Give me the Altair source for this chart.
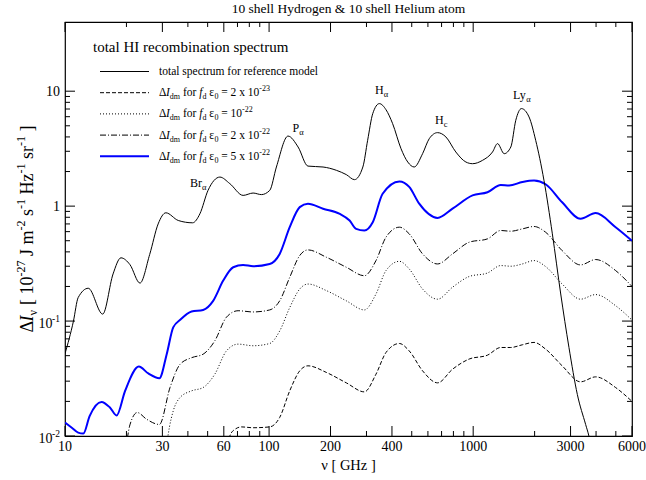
import altair as alt
import pandas as pd

FONT = "Liberation Serif"
W, H = 567, 414          # plot area
LEFT, TOP = 65, 22       # plot-area offset in the page

# ---------------- data ----------------
total_nu = [10, 11, 11.6, 13, 15.3, 17.2, 18.8, 20.8, 23.3, 26, 28.6, 31.2, 35.9, 42.2, 45.8,
            50.2, 57.4, 64.2, 74.6, 83.5, 91.7, 100.7, 108.6, 123.8, 138.7, 155, 183.8, 213.6,
            239, 262, 288, 304, 322, 347, 374, 403, 443, 478, 514, 565, 609, 669, 735, 822,
            921, 993, 1110, 1244, 1316, 1419, 1529, 1617, 1723, 1878, 2024, 2222, 2443, 2685,
            2946, 3238, 3556, 3690, 3900]
total_I = [0.052, 0.1, 0.16, 0.193, 0.115, 0.257, 0.355, 0.31, 0.214, 0.38, 0.70, 0.875, 0.75,
           0.716, 0.857, 1.37, 1.79, 1.57, 1.24, 1.30, 1.26, 1.37, 2.19, 4.07, 3.27, 2.23, 2.19,
           2.05, 1.88, 1.70, 2.19, 3.74, 6.38, 7.8, 6.9, 5.22, 3.16, 2.42, 2.19, 2.86, 3.86, 4.36,
           4.0, 2.96, 2.42, 2.34, 2.5, 2.96, 3.5, 2.86, 3.27, 5.58, 7.06, 5.97, 3.74, 1.68, 0.574,
           0.172, 0.059, 0.023, 0.0126, 0.01, 0.006]

blue_nu = [10, 10.8, 11.6, 12.3, 13.2, 15.1, 16.6, 17.9, 19.7, 23, 25.6, 29, 31.5, 33.9, 36.8,
           41.7, 47.5, 53.2, 59.6, 66.7, 74.6, 83.5, 100.7, 112.7, 126.2, 141.3, 155, 183.8,
           222, 248, 267, 293, 322, 360, 435, 486, 544, 669, 792, 993, 1175, 1365, 1500, 1742,
           1987, 2264, 2729, 3357, 3980, 4988, 6000]
blue_I = [0.0131, 0.0118, 0.0107, 0.0105, 0.0149, 0.0198, 0.0177, 0.0151, 0.0247, 0.0402, 0.035,
          0.0318, 0.0515, 0.088, 0.103, 0.121, 0.125, 0.150, 0.225, 0.294, 0.308, 0.30, 0.314,
          0.384, 0.656, 0.98, 1.05, 0.95, 0.857, 0.75, 0.634, 0.614, 0.725, 1.28, 1.64, 1.47,
          1.05, 0.79, 0.95, 1.24, 1.32, 1.53, 1.51, 1.62, 1.67, 1.55, 1.08, 0.776, 0.87, 0.656,
          0.50]

dashdot_nu = [20.2, 20.8, 22.6, 25.1, 29, 32.7, 36.6, 41.7, 47.5, 54.2, 61.8, 70.5, 83.5, 100.7,
              112.7, 126.2, 141.3, 155, 191, 239, 293, 334, 374, 435, 486, 565, 669, 792, 955,
              1175, 1365, 1529, 1742, 1987, 2264, 2729, 3357, 3980, 4988, 6000]
dashdot_I = [0.0095, 0.0125, 0.016, 0.014, 0.0126, 0.0264, 0.042, 0.048, 0.0515, 0.0673, 0.108,
             0.123, 0.12, 0.125, 0.150, 0.24, 0.372, 0.416, 0.359, 0.294, 0.248, 0.336, 0.537,
             0.656, 0.574, 0.384, 0.314, 0.384, 0.485, 0.519, 0.614, 0.605, 0.634, 0.665, 0.593,
             0.41, 0.308, 0.343, 0.275, 0.20]

dotted_nu = [31.8, 32.5, 33.9, 36.6, 41.7, 47.5, 54.2, 61.8, 70.5, 83.5, 100.7, 112.7, 126.2,
             141.3, 155, 191, 239, 293, 334, 374, 435, 486, 565, 669, 792, 955, 1175, 1365, 1529,
             1742, 1987, 2264, 2729, 3357, 3980, 4988, 6000]
dotted_I = [0.0095, 0.012, 0.0165, 0.0216, 0.0247, 0.0264, 0.0345, 0.055, 0.063, 0.061, 0.0638,
            0.082, 0.131, 0.19, 0.21, 0.184, 0.150, 0.125, 0.172, 0.275, 0.331, 0.284, 0.19,
            0.155, 0.197, 0.244, 0.262, 0.304, 0.30, 0.314, 0.336, 0.298, 0.21, 0.155, 0.17,
            0.136, 0.102]

dashed_nu = [63.5, 65, 67.9, 73.2, 83.5, 100.7, 112.7, 126.2, 141.3, 155, 191, 239, 293, 334,
             374, 435, 486, 565, 669, 792, 955, 1175, 1365, 1529, 1742, 1987, 2264, 2729, 3357,
             3980, 4988, 6000]
dashed_I = [0.0095, 0.0105, 0.0114, 0.012, 0.0118, 0.012, 0.0145, 0.0247, 0.0369, 0.0408,
            0.0357, 0.029, 0.0242, 0.0345, 0.0533, 0.0638, 0.055, 0.0369, 0.029, 0.0381, 0.0467,
            0.0505, 0.0589, 0.0589, 0.0622, 0.0652, 0.057, 0.0408, 0.0296, 0.0327, 0.0264, 0.020]

x_major = [10, 30, 60, 100, 200, 400, 1000, 3000, 6000]
x_labels = ["10", "30", "60", "100", "200", "400", "1000", "3000", "6000"]
x_minor = [20, 40, 50, 70, 80, 90, 300, 500, 600, 700, 800, 900, 2000, 4000, 5000]
y_major = [0.01, 0.1, 1, 10]
y_minor = [k * m for m in (0.01, 0.1, 1) for k in range(2, 10)]
y_plain_vals, y_plain_labels = [1, 10], ["1", "10"]
y_exp_vals, y_exp_base, y_exp_sup = [0.01, 0.1], ["10", "10"], ["-2", "-1"]

title_text = "10 shell Hydrogen & 10 shell Helium atom"
x_title = "ν [ GHz ]"
legend_header = "total HI recombination spectrum"
legend_first = "total spectrum for reference model"
legend_exps = ["2 x 10", "10", "2 x 10", "5 x 10"]
legend_sups = ["-23", "-22", "-22", "-22"]

# ---------------- scales ----------------
xs = alt.Scale(type="log", domain=[10, 6000], nice=False)
ys = alt.Scale(type="log", domain=[0.01, 40], nice=False)


def curve(nu, I, color="black", width=1.0, dash=None):
    props = dict(color=color, strokeWidth=width, interpolate="monotone", clip=True)
    if dash is not None:
        props["strokeDash"] = dash
    return alt.Chart(pd.DataFrame({"nu": nu, "I": I})).mark_line(**props).encode(
        x=alt.X("nu:Q", scale=xs, axis=None),
        y=alt.Y("I:Q", scale=ys, axis=None),
    )


def xticks(vals, length, top):
    y0 = 0 if top else H
    y1 = length if top else H - length
    return alt.Chart(pd.DataFrame({"v": vals})).mark_rule(color="black", strokeWidth=1).encode(
        x=alt.X("v:Q", scale=xs, axis=None), y=alt.value(y0), y2=alt.value(y1))


def yticks(vals, length, right):
    x0 = W if right else 0
    x1 = W - length if right else length
    return alt.Chart(pd.DataFrame({"v": vals})).mark_rule(color="black", strokeWidth=1).encode(
        y=alt.Y("v:Q", scale=ys, axis=None), x=alt.value(x0), x2=alt.value(x1))


# tick labels, placed through the scales
xlab = alt.Chart(pd.DataFrame({"v": x_major, "t": x_labels})).mark_text(
    font=FONT, fontSize=14, align="center", baseline="alphabetic", color="black").encode(
    x=alt.X("v:Q", scale=xs, axis=None), y=alt.value(H + 14.5), text="t:N")
ylab_plain = alt.Chart(pd.DataFrame({"v": y_plain_vals, "t": y_plain_labels})).mark_text(
    font=FONT, fontSize=14, align="right", baseline="alphabetic", color="black", dy=5).encode(
    y=alt.Y("v:Q", scale=ys, axis=None), x=alt.value(-5), text="t:N")
ylab_base = alt.Chart(pd.DataFrame({"v": y_exp_vals, "t": y_exp_base})).mark_text(
    font=FONT, fontSize=14, align="right", baseline="alphabetic", color="black", dy=7).encode(
    y=alt.Y("v:Q", scale=ys, axis=None), x=alt.value(-12.5), text="t:N")
ylab_sup = alt.Chart(pd.DataFrame({"v": y_exp_vals, "t": y_exp_sup})).mark_text(
    font=FONT, fontSize=9.5, align="right", baseline="alphabetic", color="black", dy=1).encode(
    y=alt.Y("v:Q", scale=ys, axis=None), x=alt.value(-5), text="t:N")

# ---------------- text layout helpers ----------------
TW = {' ': 250, '[': 333, ']': 333, '-': 333, '=': 564, '&': 778,
      'a': 444, 'b': 500, 'c': 444, 'd': 500, 'e': 444, 'f': 333, 'g': 500, 'h': 500,
      'i': 278, 'j': 278, 'k': 500, 'l': 278, 'm': 778, 'n': 500, 'o': 500, 'p': 500,
      'q': 500, 'r': 333, 's': 389, 't': 278, 'u': 500, 'v': 500, 'w': 722, 'x': 500,
      'y': 500, 'z': 444, 'B': 667, 'H': 722, 'I': 333, 'J': 389, 'L': 611, 'P': 556,
      'Δ': 612, 'ν': 500, 'α': 540, 'ε': 440}
TW.update({str(d): 500 for d in range(10)})


def tw(s, size, italic=False):
    w = 0
    for c in s:
        w += 278 if (italic and c == 'f') else TW.get(c, 500)
    return w * size / 1000.0


rows = []  # px, py, t, fs, st, rot


def place(segs, x0, y0, rotated=False):
    pos = 0.0
    for txt, st, size, shift in segs:
        lead = len(txt) - len(txt.lstrip(' '))
        start = pos + lead * 250 * size / 1000.0
        s = txt.strip(' ')
        if rotated:
            rows.append(dict(px=x0 + shift, py=y0 - start, t=s, fs=size, st=st, rot=1))
        else:
            rows.append(dict(px=x0 + start, py=y0 + shift, t=s, fs=size, st=st, rot=0))
        pos += tw(txt, size, st == 'i')
    return pos


def seg_len(segs):
    return sum(tw(t, s, st == 'i') for t, st, s, _ in segs)


# legend
rows.append(dict(px=28, py=30, t=legend_header, fs=15, st='n', rot=0))
row_y = [49.5, 70.7, 91.9, 113.1, 134.3]
FS, SS = 11.5, 8
rows.append(dict(px=94, py=row_y[0] + 3.5, t=legend_first, fs=FS, st='n', rot=0))
for k in range(4):
    segs = [("Δ", 'n', FS, 0), ("I", 'i', FS, 0), ("dm", 'n', SS, 3), (" for ", 'n', FS, 0),
            ("f", 'i', FS, 0), ("d", 'n', SS, 3), (" ε", 'n', FS, 0), ("0", 'n', SS, 3),
            (" = " + legend_exps[k], 'n', FS, 0), (legend_sups[k], 'n', SS, -5)]
    place(segs, 94, row_y[k + 1] + 3.5)

# peak labels
PL, PS = 12, 8.5
for name, sub, ox, oy in [("Br", "α", 190, 186.5), ("P", "α", 292.5, 131.5),
                          ("H", "α", 375, 94), ("H", "c", 435, 124), ("Ly", "α", 513, 99)]:
    place([(name, 'n', PL, 0), (sub, 'n', PS, 3)], ox - LEFT, oy - TOP)

# y-axis title (rotated)
YF, YS = 18, 12
ysegs = [("Δ", 'n', YF, 0), ("I", 'i', YF, 0), ("ν", 'n', YS, 4), (" [ 10", 'n', YF, 0),
         ("-27", 'n', YS, -8), (" J m", 'n', YF, 0), ("-2", 'n', YS, -8), (" s", 'n', YF, 0),
         ("-1", 'n', YS, -8), (" Hz", 'n', YF, 0), ("-1", 'n', YS, -8), (" sr", 'n', YF, 0),
         ("-1", 'n', YS, -8), (" ]", 'n', YF, 0)]
L = seg_len(ysegs)
place(ysegs, 33 - LEFT, H / 2 + L / 2, rotated=True)

ann = pd.DataFrame(rows)


def text_layer(df, italic=False, angle=None, align="left"):
    props = dict(font=FONT, align=align, baseline="alphabetic", color="black")
    if italic:
        props["fontStyle"] = "italic"
    if angle is not None:
        props["angle"] = angle
    return alt.Chart(df).mark_text(**props).encode(
        x=alt.X("px:Q", scale=None), y=alt.Y("py:Q", scale=None),
        text="t:N", size=alt.Size("fs:Q", scale=None))


texts = []
for st in ('n', 'i'):
    for rot in (0, 1):
        sub = ann[(ann.st == st) & (ann.rot == rot)]
        if len(sub):
            texts.append(text_layer(sub, italic=(st == 'i'), angle=270 if rot else None))

centered = pd.DataFrame([
    dict(px=W / 2, py=-9, t=title_text, fs=13.5),
    dict(px=W / 2, py=448, t=x_title, fs=14.5),
])
texts.append(text_layer(centered, align="center"))

# legend sample lines
dummy = pd.DataFrame({"a": [0]})
styles = [dict(color="black", strokeWidth=1),
          dict(color="black", strokeWidth=1, strokeDash=[4, 2]),
          dict(color="black", strokeWidth=1, strokeDash=[1, 2]),
          dict(color="black", strokeWidth=1, strokeDash=[6, 2, 1, 2]),
          dict(color="#0000ff", strokeWidth=2)]
legend_lines = [alt.Chart(dummy).mark_rule(**sty).encode(
    x=alt.value(35), x2=alt.value(84), y=alt.value(row_y[i])) for i, sty in enumerate(styles)]

layers = [
    xticks(x_major, 10, False), xticks(x_minor, 5, False),
    xticks(x_major, 10, True), xticks(x_minor, 5, True),
    yticks(y_major, 10, False), yticks(y_minor, 5, False),
    yticks(y_major, 10, True), yticks(y_minor, 5, True),
    xlab, ylab_plain, ylab_base, ylab_sup,
    curve(dashed_nu, dashed_I, dash=[4, 2]),
    curve(dotted_nu, dotted_I, dash=[1, 2]),
    curve(dashdot_nu, dashdot_I, dash=[6, 2, 1, 2]),
    curve(blue_nu, blue_I, color="#0000ff", width=2),
    curve(total_nu, total_I),
] + legend_lines + texts

chart = alt.layer(*layers).properties(
    width=W, height=H,
    padding={"left": LEFT, "top": TOP, "right": 646 - LEFT - W, "bottom": 480 - TOP - H},
    autosize=alt.AutoSizeParams(type="none"),
    background="white",
).configure_view(stroke="black", strokeWidth=1.2)

chart.save("out.html", embed_options={"renderer": "svg", "actions": False})
